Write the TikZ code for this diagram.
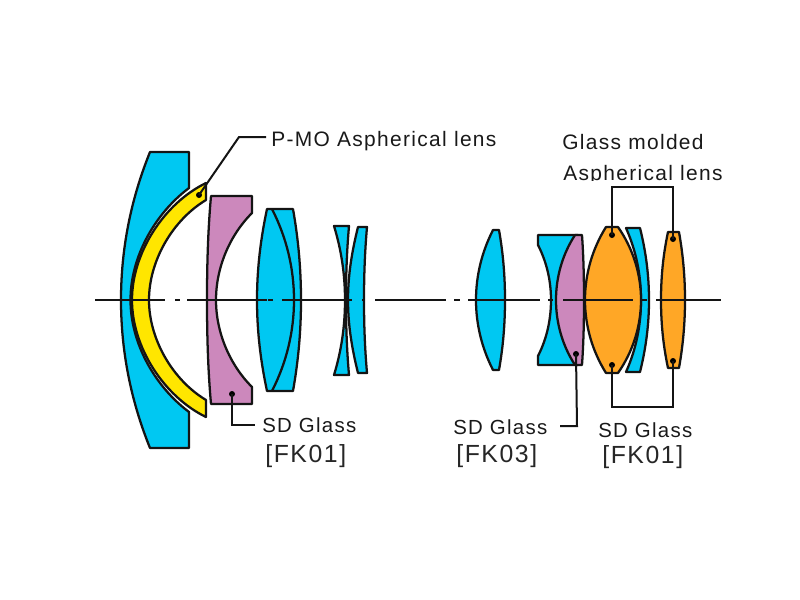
\documentclass[tikz,border=0pt]{standalone}
\usepackage{fontspec}
\setmainfont[LetterSpace=6.4]{Liberation Sans}
\tikzset{
  line/.style={draw=black!92,line width=1.7pt,line join=round},
  lead/.style={draw=black!92,line width=1.5pt},
  blue/.style={line,fill=cblue},
  yel/.style={line,fill=cyel},
  pur/.style={line,fill=cpur},
  ora/.style={line,fill=cora},
  lab/.style={inner sep=0pt,anchor=base west,text=black!90,font=\fontsize{15.7}{18}\selectfont},
  sdl/.style={inner sep=0pt,anchor=base west,text=black!90,font=\fontsize{15.3}{18}\selectfont},
  big/.style={inner sep=0pt,anchor=base west,text=black!85,font=\fontsize{18.6}{22}\selectfont},
  tip/.style={circle,fill=black,inner sep=0pt,minimum size=4.5pt},
  dl1/.style={out=-90-#1,in=90,looseness=.87},dl2/.style={out=-90,in=90+#1,looseness=.87},
  dr1/.style={out=-90+#1,in=90,looseness=.87},dr2/.style={out=-90,in=90-#1,looseness=.87},
  ul1/.style={out=90+#1,in=-90,looseness=.87},ul2/.style={out=90,in=-90-#1,looseness=.87},
  ur1/.style={out=90-#1,in=-90,looseness=.87},ur2/.style={out=90,in=-90+#1,looseness=.87},
}
\definecolor{cblue}{HTML}{00C8F2}
\definecolor{cyel}{HTML}{FFE600}
\definecolor{cpur}{HTML}{CC88BC}
\definecolor{cora}{HTML}{FFA726}
\begin{document}
\begin{tikzpicture}[x=0.75pt,y=-0.75pt]
\useasboundingbox (0,0) rectangle (800,600);
% lens 1
\path[blue] (150,152) to[dl1=22] (121,300) to[dl2=22] (150,448) -- (189,448) -- (189,412)
  to[ul1=53] (130.5,300) to[ul2=53] (189,188) -- (189,152) -- cycle;
\path[yel] (206,183) to[dl1=64] (132,300) to[dl2=64] (206,417) -- (206,400)
  to[ul1=59] (149,300) to[ul2=59] (206,200) -- cycle;
% lens 2
\path[pur] (211,196) to[dl1=5] (207,300) to[dl2=5] (211,404) -- (252,404) -- (252,387)
  to[ul1=45] (216,300) to[ul2=45] (252,213) -- (252,196) -- cycle;
% lens 3
\path[blue] (267,209) to[dl1=12] (257,300) to[dl2=12] (267,391) -- (293,391)
  to[ur1=10] (301,300) to[ur2=10] (293,209) -- cycle;
\draw[line] (272,209) to[dr1=27] (294,300) to[dr2=27] (272,391);
% lens 4, 5
\path[blue] (334,226) to[dr1=17] (345,300) to[dr2=17] (334,375) -- (349,375)
  to[ul1=5] (346,300) to[ul2=5] (349,226) -- cycle;
\path[blue] (358,227) to[dl1=14] (348,300) to[dl2=14] (358,373) -- (367,373)
  to[ul1=5] (364,300) to[ul2=5] (367,227) -- cycle;
% lens 6
\path[blue] (493,230) to[dl1=27] (476,300) to[dl2=27] (493,370) -- (499,370)
  to[ur1=10] (505,300) to[ur2=10] (499,230) -- cycle;
% lens 7, 8
\path[blue] (538,235) -- (538,245) to[dr1=27] (551,300) to[dr2=27] (538,356) -- (538,365)
  -- (578,365) -- (578,235) -- cycle;
\path[pur] (575,235) to[dl1=33] (556,300) to[dl2=33] (575,365) -- (582,365)
  to[ur1=4] (584,300) to[ur2=4] (582,235) -- cycle;
% lens 10 (behind)
\path[blue] (626,228) to[dr1=24] (641,300) to[dr2=24] (626,372) -- (640,372)
  to[ur1=14] (649,300) to[ur2=14] (640,228) -- cycle;
% lens 9
\path[ora] (606,227) to[dl1=32] (585,300) to[dl2=32] (606,373) -- (618,373)
  to[ur1=35] (641,300) to[ur2=35] (618,227) -- cycle;
% lens 11
\path[ora] (668,232) to[dl1=12] (661,300) to[dl2=12] (668,368) -- (679,368)
  to[ur1=10] (685,300) to[ur2=10] (679,232) -- cycle;
% axis
\draw[lead] (95,300)--(165,300) (175,300)--(180,300) (187,300)--(267,300) (268,300)--(273,300)
  (282,300)--(352,300) (362,300)--(365,300) (375,300)--(446,300) (454,300)--(460,300)
  (468,300)--(540,300) (548,300)--(553,300) (563,300)--(633,300) (642,300)--(647,300)
  (656,300)--(721,300);
% labels
\node[lab] (pmo) at (271,146) {P-MO Aspherical lens};
\node[lab] (gm) at (562,149) {Glass molded};
\node[lab] (as) at (563,180) {Aspherical lens};
\node[sdl] (sd1) at (262,432) {SD Glass};
\node[big] (fk1) at (265,462) {[FK01]};
\node[sdl] (sd2) at (453,434) {SD Glass};
\node[big] (fk2) at (456,462) {[FK03]};
\node[sdl] (sd3) at (598,437) {SD Glass};
\node[big] (fk3) at (602,463) {[FK01]};
\fill[white] (555,180.5) rectangle (730,186);
% leaders
\node[tip] (t1) at (199,195) {};
\node[tip] (t2) at (232,394) {};
\node[tip] (t3) at (576,354) {};
\node[tip] (t4) at (612,235) {};
\node[tip] (t5) at (673,239) {};
\node[tip] (t6) at (612,365) {};
\node[tip] (t7) at (673,361) {};
\coordinate (e1) at (266,137);
\coordinate (e2) at (255,425);
\coordinate (e3) at (560,426);
\draw[lead] (t1.center) -- (239,137) -- (e1);
\draw[lead] (t2.center) -- (232,425) -- (e2);
\draw[lead] (t3.center) -- (577,426) -- (e3);
\draw[lead] (t4.center) -- (612,187) -- (673,187) -- (t5.center);
\draw[lead] (t6.center) -- (612,407) -- (673,407) -- (t7.center);
\end{tikzpicture}
\end{document}
